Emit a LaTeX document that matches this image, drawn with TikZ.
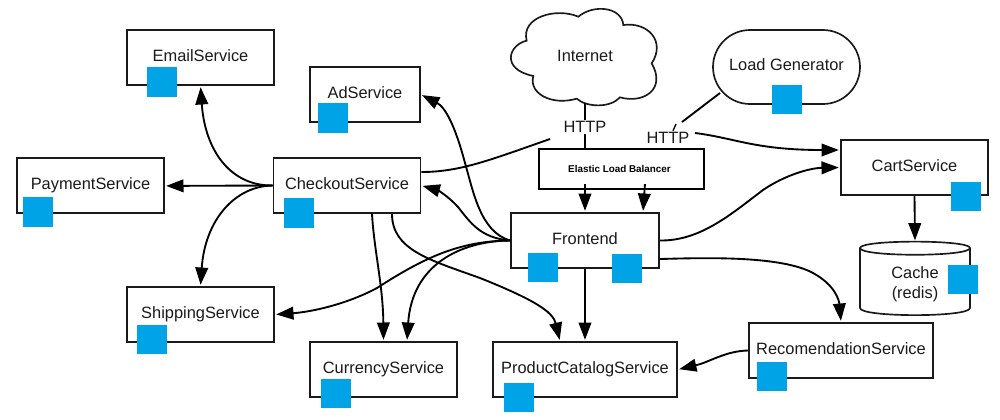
\documentclass[tikz,border=0pt]{standalone}
\usepackage{fontspec}
\setmainfont{Liberation Sans}
\usetikzlibrary{arrows.meta,shapes.misc}
\definecolor{sq}{HTML}{00A3E6}
\definecolor{ink}{HTML}{1A1A1A}
\tikzset{
  every node/.style={text=ink,font=\fontsize{12.3}{15}\selectfont},
  svc/.style={draw=ink,line width=1.25pt,fill=white,inner sep=0pt,text height=9.5pt,text depth=4pt,minimum height=41.25pt},
  pod/.style={fill=sq,draw=none,inner sep=0pt,minimum width=22.5pt,minimum height=22pt},
  conn/.style={draw=black,line width=1.4pt,-{Triangle[length=13pt,width=9.5pt]},shorten >=1pt},
  plain/.style={draw=black,line width=1.4pt},
  tag/.style={fill=white,inner sep=1pt}
}
\begin{document}
\begin{tikzpicture}[x=0.75pt,y=-0.75pt]
\useasboundingbox (0,0) rectangle (1000,419);
% cloud outline
\begin{scope}[shift={(480,0)},x=0.25pt,y=-0.25pt]
\draw[draw=ink,line width=1.25pt,fill=white] (140,122)
  .. controls (85,135) and (62,208) .. (160,228)
  .. controls (145,280) and (215,318) .. (290,296)
  .. controls (320,322) and (390,325) .. (420,292)
  .. controls (490,312) and (560,268) .. (515,190)
  .. controls (558,125) and (505,65) .. (430,75)
  .. controls (425,20) and (340,12) .. (295,50)
  .. controls (230,22) and (122,50) .. (140,122) -- cycle;
\end{scope}
% cylinder outline
\draw[draw=ink,line width=1.25pt,fill=white] (860,248) .. controls (860,239.5) and (970,239.5) .. (970,248)
  -- (970,308) .. controls (970,317.5) and (860,317.5) .. (860,308) -- cycle;
\draw[draw=ink,line width=1.25pt] (860,248) .. controls (860,257) and (970,257) .. (970,248);
% nodes
\node[inner sep=0pt,minimum width=110pt,minimum height=67.5pt,text height=9.5pt,text depth=4pt] (internet) at (585,58) {Internet};
\node[svc,rounded rectangle,minimum width=110.25pt,minimum height=55.5pt] (loadgen) at (786.5,67) {Load Generator};
\node[inner sep=0pt,minimum width=82.5pt,minimum height=54.75pt] (cachebody) at (915,278.5) {};
\node[align=center,inner sep=0pt] (cachelabel) at (915,284.5) {Cache\\(redis)};
\node[svc,minimum width=110.25pt] (email) at (200.5,57.5) {EmailService};
\node[svc,minimum width=82.5pt] (ad) at (365,94.5) {AdService};
\node[svc,minimum width=110.25pt] (payment) at (90.5,185.5) {PaymentService};
\node[svc,minimum width=110.25pt] (checkout) at (347,185.5) {CheckoutService};
\node[svc,minimum width=110.25pt] (shipping) at (200.5,314.5) {ShippingService};
\node[svc,minimum width=110.25pt] (currency) at (383.5,369.5) {CurrencyService};
\node[svc,minimum width=138pt] (product) at (585,369.5) {ProductCatalogService};
\node[svc,minimum width=111pt] (frontend) at (585,240.5) {Frontend};
\node[svc,minimum width=138pt] (reco) at (841,350.5) {RecomendationService};
\node[svc,minimum width=110.25pt] (cart) at (914.5,167.5) {CartService};
\node[draw=black,line width=1.7pt,fill=white,inner sep=0pt,minimum width=123.75pt,minimum height=30pt,font=\fontsize{7.4}{9}\selectfont\bfseries,text=black] (elb) at (621.5,169) {\hspace{-3pt}Elastic Load Balancer};
\node[tag] (http1) at (585,127) {HTTP};
\node[tag] (http2) at (668,138) {HTTP};
\coordinate (lgbreak) at (682,122);
\coordinate (lgtick) at (676,124);
% plain connectors
\draw[plain] (internet.south) -- (http1.north);
\draw[plain] (http1.south) -- ([xshift=-27.4pt]elb.north);
\draw[plain] (720,93) -- (lgbreak);
\draw[plain,line width=1pt] (lgtick) -- (http2.north -| 673,0);
\draw[plain] (checkout.east |- 0,172) .. controls (460,172) and (490,160) .. (550,139);
% arrows
\draw[conn] (695,133) .. controls (735,138) and (755,150) .. (cart.west |- 0,150);
\draw[conn] ([xshift=-27.4pt,yshift=4.5pt]elb.south) -- (frontend.north);
\draw[conn] ([xshift=17.6pt,yshift=4.5pt]elb.south) -- ([xshift=43.5pt]frontend.north);
\draw[conn] (frontend.east) .. controls (700,241) and (730,215) .. (763,190) .. controls (785,175) and (810,168) .. (cart.west);
\draw[conn] ([yshift=-0pt]frontend.east |- 0,259) .. controls (700,258) and (780,255) .. (813,273) .. controls (835,285) and (839,300) .. (reco.north);
\draw[conn] (frontend.south) -- (product.north);
\draw[conn] (reco.west) .. controls (725,351) and (710,362) .. (product.east);
\draw[conn] (cart.south) -- (cachebody.north);
\draw[conn] (frontend.west) .. controls (480,232) and (473,190) .. (465,163) .. controls (455,125) and (445,107) .. (ad.east);
\draw[conn] (frontend.west) .. controls (480,238) and (470,222) .. (458,207) .. controls (447,195) and (437,190) .. (checkout.east);
\draw[conn] (frontend.west) .. controls (460,241) and (425,257) .. (377,288) .. controls (345,305) and (310,312) .. (shipping.east);
\draw[conn] (frontend.west) .. controls (460,241) and (412,265) .. ([xshift=17.6pt]currency.north);
\draw[conn] ([xshift=18.75pt]checkout.south) .. controls (374,250) and (383,285) .. (currency.north);
\draw[conn] ([xshift=33.75pt]checkout.south) .. controls (392,250) and (430,260) .. (480,278) .. controls (535,300) and (553,312) .. ([xshift=-18.75pt]product.north);
\draw[conn] (checkout.west) .. controls (230,186) and (205,150) .. (email.south);
\draw[conn] (checkout.west) -- ([yshift=-0.3pt]payment.east);
\draw[conn] (checkout.west) .. controls (235,186) and (205,220) .. (shipping.north);
% pod squares
\node[pod] (podemail) at (162,82) {};
\node[pod] (podad) at (333,118) {};
\node[pod] (podpayment) at (38,212) {};
\node[pod] (podcheckout) at (299,213) {};
\node[pod] (podshipping) at (152,339.5) {};
\node[pod] (podcurrency) at (336,393.5) {};
\node[pod] (podproduct) at (519,397.5) {};
\node[pod] (podfe1) at (543,267.5) {};
\node[pod] (podfe2) at (627,268.5) {};
\node[pod] (podreco) at (772,376.5) {};
\node[pod] (podcache) at (963,279.5) {};
\node[pod] (podcart) at (966,196.5) {};
\node[pod] (podlg) at (787,99.5) {};
\end{tikzpicture}
\end{document}
